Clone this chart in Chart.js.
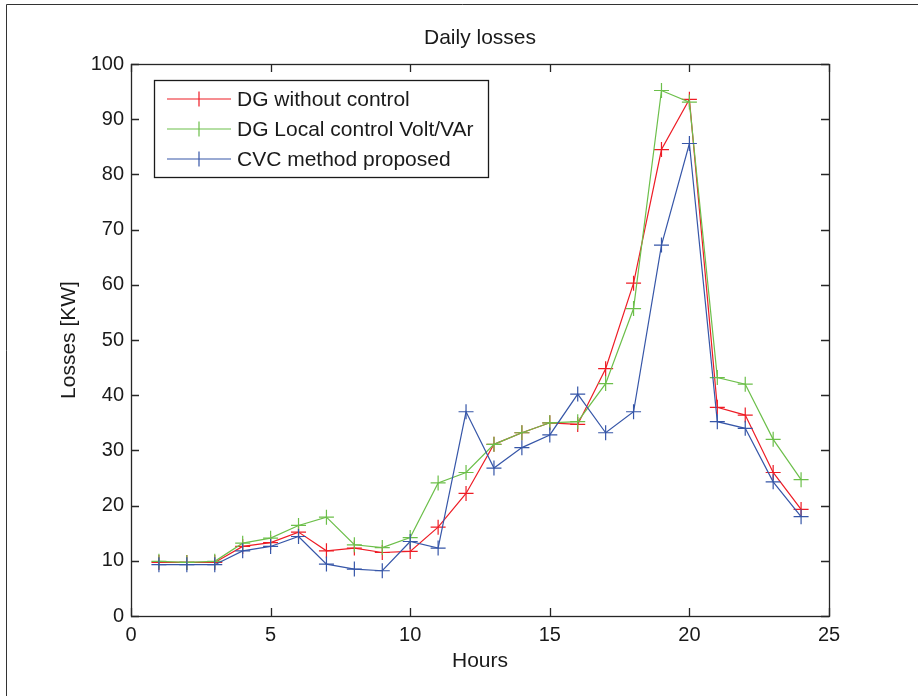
<!DOCTYPE html>
<html>
<head>
<meta charset="utf-8">
<script src="https://cdn.jsdelivr.net/npm/chart.js@4.4.1/dist/chart.umd.min.js"></script>
<style>
  html, body { margin: 0; padding: 0; background: #fff; }
  #wrap { width: 918px; height: 696px; }
</style>
</head>
<body>
<div id="wrap"><canvas id="lossChart" width="918" height="696"></canvas></div>
<script>
// data
const hours = [1, 2, 3, 4, 5, 6, 7, 8, 9, 10, 11, 12, 13, 14, 15, 16, 17, 18, 19, 20, 21, 22, 23, 24];
const withoutControl = [9.7, 9.7, 9.7, 12.6, 13.3, 15.2, 11.8, 12.3, 11.5, 11.7, 16.1, 22.2, 31.1, 33.2, 35.0, 34.7, 44.8, 60.3, 84.5, 93.6, 37.8, 36.4, 26.0, 19.3];
const localControl = [9.9, 9.7, 9.9, 13.2, 14.1, 16.4, 17.9, 12.9, 12.4, 14.2, 24.1, 26.0, 31.1, 33.2, 35.0, 35.2, 42.1, 55.7, 95.2, 93.1, 43.2, 42.0, 32.0, 24.7];
const cvcMethod = [9.3, 9.3, 9.3, 11.8, 12.6, 14.4, 9.4, 8.5, 8.2, 13.5, 12.3, 37.0, 26.8, 30.5, 32.8, 40.2, 33.2, 37.0, 67.2, 85.6, 35.2, 34.0, 24.3, 18.0];
const xTicks = [0, 5, 10, 15, 20, 25];
const yTicks = [0, 10, 20, 30, 40, 50, 60, 70, 80, 90, 100];

const FONT = "'Liberation Sans', Arial, Helvetica, sans-serif";
const AXIS = '#262626';

function series(label, values, color, order) {
  return {
    label: label,
    data: hours.map((h, i) => ({ x: h, y: values[i] })),
    borderColor: color,
    backgroundColor: color,
    borderWidth: 1.2,
    pointStyle: 'cross',
    pointRadius: 7.5,
    pointBorderWidth: 1.2,
    pointHoverRadius: 7.5,
    tension: 0,
    order: order
  };
}

// outer frame, box, inward ticks, titles and legend
const decor = {
  id: 'decor',
  beforeDraw(chart) {
    const ctx = chart.ctx;
    ctx.save();
    ctx.fillStyle = '#fff';
    ctx.fillRect(0, 0, chart.width, chart.height);
    ctx.strokeStyle = '#333';
    ctx.lineWidth = 1;
    ctx.beginPath();
    ctx.moveTo(6.5, chart.height);
    ctx.lineTo(6.5, 4.5);
    ctx.lineTo(chart.width, 4.5);
    ctx.stroke();
    ctx.restore();
  },
  afterDraw(chart) {
    const ctx = chart.ctx;
    const a = chart.chartArea;
    const xs = chart.scales.x, ys = chart.scales.y;
    ctx.save();
    ctx.strokeStyle = AXIS;
    ctx.lineWidth = 1.3;
    ctx.strokeRect(Math.round(a.left) + 0.5, Math.round(a.top) + 0.5, Math.round(a.right - a.left), Math.round(a.bottom - a.top));
    const tl = 8;
    ctx.beginPath();
    xTicks.forEach(v => {
      const px = Math.round(xs.getPixelForValue(v)) + 0.5;
      ctx.moveTo(px, a.bottom); ctx.lineTo(px, a.bottom - tl);
      ctx.moveTo(px, a.top); ctx.lineTo(px, a.top + tl);
    });
    yTicks.forEach(v => {
      const py = Math.round(ys.getPixelForValue(v)) + 0.5;
      ctx.moveTo(a.left, py); ctx.lineTo(a.left + tl, py);
      ctx.moveTo(a.right, py); ctx.lineTo(a.right - tl, py);
    });
    ctx.stroke();

    // titles
    ctx.fillStyle = '#1a1a1a';
    ctx.textAlign = 'center';
    ctx.textBaseline = 'alphabetic';
    ctx.font = '21px ' + FONT;
    ctx.fillText('Daily losses', (a.left + a.right) / 2, 44);
    ctx.textBaseline = 'middle';
    ctx.fillText('Hours', (a.left + a.right) / 2, 661);
    ctx.save();
    ctx.translate(69, (a.top + a.bottom) / 2);
    ctx.rotate(-Math.PI / 2);
    ctx.fillText('Losses [KW]', 0, 0);
    ctx.restore();

    // legend box
    const bx = 154.5, by = 80.5, bw = 334, bh = 97;
    ctx.fillStyle = '#fff';
    ctx.fillRect(bx, by, bw, bh);
    ctx.strokeStyle = '#1a1a1a';
    ctx.lineWidth = 1.3;
    ctx.strokeRect(bx, by, bw, bh);
    ctx.font = '21px ' + FONT;
    ctx.textAlign = 'left';
    const rows = [0, 1, 2];
    rows.forEach(i => {
      const ds = chart.data.datasets[i];
      const y = 99 + i * 30;
      ctx.strokeStyle = ds.borderColor;
      ctx.lineWidth = 1.2;
      ctx.beginPath();
      ctx.moveTo(167, y); ctx.lineTo(231, y);
      ctx.moveTo(199, y - 7.5); ctx.lineTo(199, y + 7.5);
      ctx.moveTo(191.5, y); ctx.lineTo(206.5, y);
      ctx.stroke();
      ctx.fillStyle = '#1a1a1a';
      ctx.fillText(ds.label, 237, y + 1);
    });
    ctx.restore();
  }
};

new Chart(document.getElementById('lossChart'), {
  type: 'line',
  data: {
    datasets: [
      series('DG without control', withoutControl, '#ee1c25', 2),
      series('DG Local control Volt/VAr', localControl, '#6cbf4a', 1),
      series('CVC method proposed', cvcMethod, '#3656a8', 0)
    ]
  },
  options: {
    responsive: false,
    animation: false,
    events: [],
    layout: { padding: { top: 64, right: 89, bottom: 0, left: 0 } },
    plugins: {
      legend: { display: false },
      title: { display: false },
      tooltip: { enabled: false }
    },
    scales: {
      x: {
        type: 'linear',
        min: 0,
        max: 25,
        afterBuildTicks: s => { s.ticks = xTicks.map(v => ({ value: v })); },
        afterFit: s => { s.height = 80; },
        grid: { display: false, drawTicks: false },
        border: { display: false },
        ticks: { padding: 7, color: '#1a1a1a', font: { family: FONT, size: 20 }, maxRotation: 0 }
      },
      y: {
        type: 'linear',
        min: 0,
        max: 100,
        afterBuildTicks: s => { s.ticks = yTicks.map(v => ({ value: v })); },
        afterFit: s => { s.width = 131; },
        grid: { display: false, drawTicks: false },
        border: { display: false },
        ticks: { padding: 7, color: '#1a1a1a', font: { family: FONT, size: 20 } }
      }
    }
  },
  plugins: [decor]
});
</script>
</body>
</html>
